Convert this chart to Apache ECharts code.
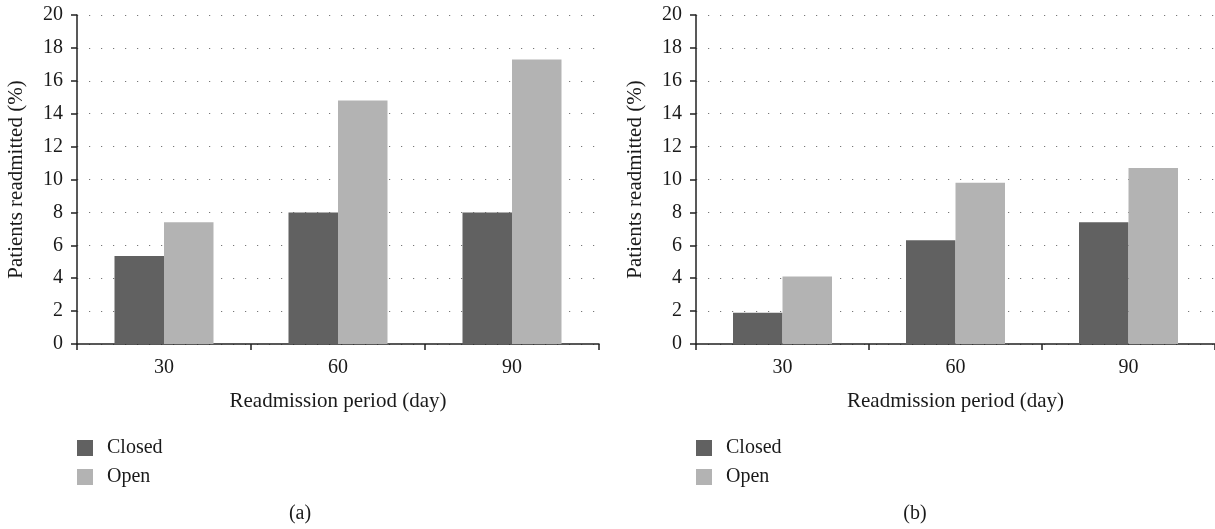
<!DOCTYPE html>
<html>
<head>
<meta charset="utf-8">
<script src="https://cdn.jsdelivr.net/npm/echarts@6/dist/echarts.min.js"></script>
<style>html,body{margin:0;padding:0;background:#fff}#c{width:1215px;height:529px}</style>
</head>
<body>
<div id="c"></div>
<script>
const categories = ['30', '60', '90'];
const closedA = [5.35, 8.0, 8.0];
const openA = [7.4, 14.8, 17.3];
const closedB = [1.9, 6.3, 7.4];
const openB = [4.1, 9.8, 10.7];
const yTicks = { min: 0, max: 20, interval: 2 };
const xTitle = 'Readmission period (day)';
const yTitle = 'Patients readmitted (%)';
const captions = ['(a)', '(b)'];

const FONT = 'Liberation Serif';
const TXT = '#1a1a1a';
const DARK = '#616161';
const LIGHT = '#b3b3b3';
const FS = 20;
const FN = 21;

function xAxis(gi) {
  return {
    type: 'category', gridIndex: gi, data: categories,
    name: xTitle, nameLocation: 'middle', nameGap: 47,
    nameTextStyle: { fontFamily: FONT, fontSize: FN, color: TXT },
    axisLine: { lineStyle: { color: '#222', width: 1.5 } },
    axisTick: { show: true, length: 6, lineStyle: { color: '#222', width: 1.5 }, alignWithLabel: false },
    axisLabel: { fontFamily: FONT, fontSize: FS, color: TXT, margin: 14 },
    splitLine: { show: false }
  };
}
function yAxis(gi) {
  return {
    type: 'value', gridIndex: gi, min: yTicks.min, max: yTicks.max, interval: yTicks.interval,
    name: yTitle, nameLocation: 'middle', nameGap: 50, nameRotate: 90,
    nameTextStyle: { fontFamily: FONT, fontSize: FN, color: TXT },
    axisLine: { show: true, lineStyle: { color: '#222', width: 1.5 } },
    axisTick: { show: true, length: 6, lineStyle: { color: '#222', width: 1.5 } },
    axisLabel: { fontFamily: FONT, fontSize: FS, color: TXT, margin: 14 },
    splitLine: { show: true, lineStyle: { color: '#777', width: 1.2, type: [1.2, 10.8], dashOffset: -12 } }
  };
}
function legend(left) {
  return {
    orient: 'vertical', left: left, top: 438, padding: 0, itemWidth: 16, itemHeight: 16, itemGap: 9,
    icon: 'rect', selectedMode: false,
    textStyle: { fontFamily: FONT, fontSize: FS, color: TXT, lineHeight: 19, padding: [0, 0, 0, 9] },
    data: ['Closed', 'Open']
  };
}
function bar(name, data, gi, color) {
  return {
    type: 'bar', name: name, data: data, xAxisIndex: gi, yAxisIndex: gi,
    barWidth: 49.5, barGap: '0%', itemStyle: { color: color }, silent: true
  };
}

const chart = echarts.init(document.getElementById('c'), null, { renderer: 'canvas' });
chart.setOption({
  animation: false,
  backgroundColor: '#fff',
  grid: [
    { left: 77, top: 15, width: 522, height: 329 },
    { left: 696, top: 15, width: 522, height: 329 }
  ],
  xAxis: [xAxis(0), xAxis(1)],
  yAxis: [yAxis(0), yAxis(1)],
  legend: [legend(77), legend(696)],
  series: [
    bar('Closed', closedA, 0, DARK),
    bar('Open', openA, 0, LIGHT),
    bar('Closed', closedB, 1, DARK),
    bar('Open', openB, 1, LIGHT)
  ],
  graphic: [
    { type: 'text', x: 300, y: 514, style: { text: captions[0], font: FS + 'px ' + FONT, fill: TXT, textAlign: 'center', textVerticalAlign: 'middle' } },
    { type: 'text', x: 915, y: 514, style: { text: captions[1], font: FS + 'px ' + FONT, fill: TXT, textAlign: 'center', textVerticalAlign: 'middle' } }
  ]
});
</script>
</body>
</html>
